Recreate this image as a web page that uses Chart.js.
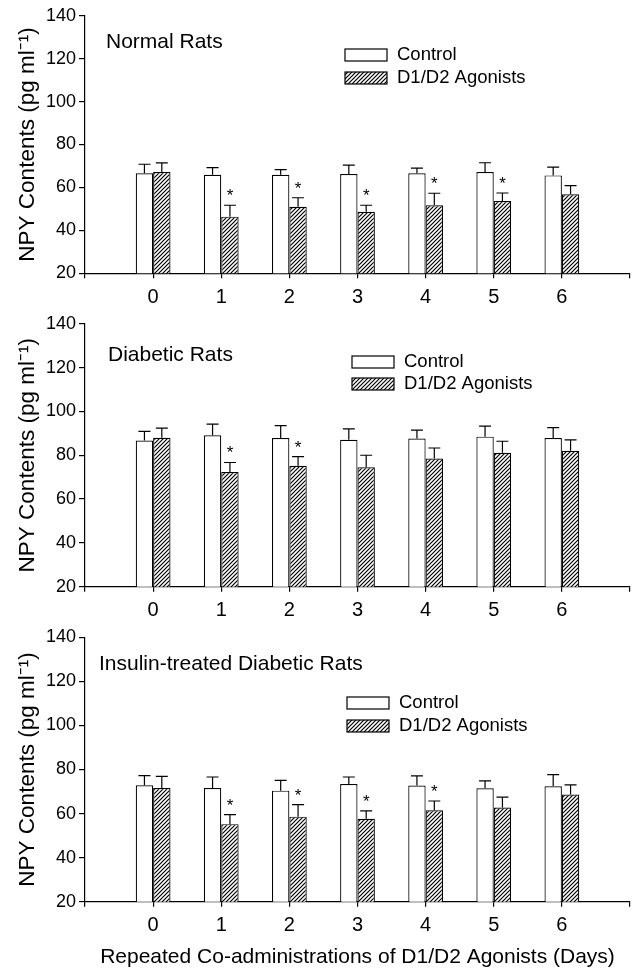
<!DOCTYPE html>
<html>
<head>
<meta charset="utf-8">
<script src="https://cdn.jsdelivr.net/npm/chart.js@4.4.1/dist/chart.umd.min.js"></script>
<style>
  html, body { margin: 0; padding: 0; background: #fff; }
  #wrap { position: relative; width: 637px; height: 970px; }
  canvas { position: absolute; left: 0; }
</style>
</head>
<body>
<div id="wrap">
  <canvas id="normal" width="637" height="310" style="top:0"></canvas>
  <canvas id="diabetic" width="637" height="310" style="top:310px"></canvas>
  <canvas id="insulin" width="637" height="350" style="top:620px"></canvas>
</div>
<script>
// categories and tick labels
const days = ['0', '1', '2', '3', '4', '5', '6'];
const yTicks = [20, 40, 60, 80, 100, 120, 140];

// Normal rats
const normalControl = [66.6, 65.9, 65.9, 66.2, 66.6, 67.2, 65.6];
const normalControlSem = [4.2, 3.3, 2.4, 4.2, 2.4, 4.3, 3.9];
const normalAgonist = [67.2, 46.4, 51.0, 48.7, 51.7, 53.7, 56.8];
const normalAgonistSem = [4.2, 5.3, 4.2, 3.0, 5.6, 3.7, 4.0];
const normalSig = [0, 1, 1, 1, 1, 1, 0];

// Diabetic rats
const diabeticControl = [86.7, 89.1, 87.9, 87.1, 87.6, 88.5, 87.9];
const diabeticControlSem = [4.2, 5.1, 5.6, 4.9, 3.9, 4.8, 4.7];
const diabeticAgonist = [88.0, 72.3, 75.2, 74.5, 78.5, 81.1, 82.0];
const diabeticAgonistSem = [4.4, 4.4, 4.2, 5.5, 4.8, 5.3, 5.0];
const diabeticSig = [0, 1, 1, 0, 0, 0, 0];

// Insulin-treated diabetic rats
const insulinControl = [72.8, 71.6, 70.4, 73.4, 72.7, 71.5, 72.4];
const insulinControlSem = [4.4, 5.0, 4.7, 3.2, 4.4, 3.3, 5.3];
const insulinAgonist = [71.6, 55.2, 58.6, 57.6, 61.5, 62.7, 68.6];
const insulinAgonistSem = [5.3, 4.3, 5.5, 3.6, 4.2, 4.8, 4.4];
const insulinSig = [0, 1, 1, 1, 1, 0, 0];

const FONT = '"Liberation Sans", Arial, Helvetica, sans-serif';

// empty slot each side so the axis runs one day past 0 and 6
const pad = arr => [null, ...arr, null];

function hatch() {
  const c = document.createElement('canvas');
  c.width = 4; c.height = 4;
  const g = c.getContext('2d');
  g.fillStyle = '#fff';
  g.fillRect(0, 0, 4, 4);
  g.strokeStyle = '#000';
  g.lineWidth = 1.2;
  g.beginPath();
  g.moveTo(-1, 5); g.lineTo(5, -1);
  g.moveTo(-1, 1); g.lineTo(1, -1);
  g.moveTo(3, 5); g.lineTo(5, 3);
  g.stroke();
  return g.createPattern(c, 'repeat');
}

// error bars, asterisks, panel label and legend
const annot = {
  id: 'annot',
  afterDatasetsDraw(chart, args, opts) {
    const ctx = chart.ctx;
    const ys = chart.scales.y;
    ctx.save();
    ctx.strokeStyle = '#000';
    ctx.fillStyle = '#000';
    ctx.lineWidth = 1.2;
    chart.data.datasets.forEach((ds, di) => {
      chart.getDatasetMeta(di).data.forEach((bar, i) => {
        const v = ds.data[i];
        if (v == null) return;
        const top = ys.getPixelForValue(v + ds.sem[i]);
        ctx.beginPath();
        ctx.moveTo(bar.x, bar.y);
        ctx.lineTo(bar.x, top);
        ctx.moveTo(bar.x - 6, top);
        ctx.lineTo(bar.x + 6, top);
        ctx.stroke();
        if (ds.sig && ds.sig[i]) {
          ctx.font = '17px ' + FONT;
          ctx.textAlign = 'center';
          ctx.textBaseline = 'alphabetic';
          ctx.fillText('*', bar.x, top - 4);
        }
      });
    });

    // panel label
    ctx.font = '21px ' + FONT;
    ctx.textAlign = 'left';
    ctx.textBaseline = 'middle';
    ctx.fillText(opts.label, opts.labelX, opts.labelY);

    // legend
    const lg = opts.legend;
    ctx.font = '18.5px ' + FONT;
    chart.data.datasets.forEach((ds, di) => {
      const by = lg.y[di];
      ctx.fillStyle = ds.backgroundColor;
      ctx.fillRect(lg.x, by, 42, 12);
      ctx.strokeStyle = '#000';
      ctx.lineWidth = 1.2;
      ctx.strokeRect(lg.x, by, 42, 12);
      ctx.fillStyle = '#000';
      ctx.fillText(ds.label, lg.x + 52, by + 6);
    });
    ctx.restore();
  }
};

function makePanel(id, control, controlSem, agonist, agonistSem, sig, cfg) {
  const el = document.getElementById(id);
  return new Chart(el, {
    type: 'bar',
    data: {
      labels: ['', ...days, ''],
      datasets: [{
        label: 'Control',
        data: pad(control),
        sem: pad(controlSem),
        backgroundColor: '#fff',
        borderColor: '#000',
        borderWidth: 1.2
      }, {
        label: 'D1/D2 Agonists',
        data: pad(agonist),
        sem: pad(agonistSem),
        sig: pad(sig),
        backgroundColor: hatch(),
        borderColor: '#000',
        borderWidth: 1.2
      }]
    },
    options: {
      responsive: false,
      animation: false,
      events: [],
      categoryPercentage: 0.51,
      barPercentage: 1.0,
      layout: { padding: { top: cfg.top, left: 0, right: 6, bottom: 0 } },
      scales: {
        x: {
          offset: false,
          afterFit: s => { s.height = cfg.xHeight; },
          grid: { offset: false, drawOnChartArea: false, tickLength: 5, color: '#000', lineWidth: 1.2 },
          border: { color: '#000', width: 1.2 },
          ticks: { color: '#000', font: { size: 20, family: FONT }, padding: 7, maxRotation: 0, autoSkip: false },
          title: {
            display: !!cfg.xTitle,
            text: cfg.xTitle || '',
            color: '#000',
            font: { size: 21, family: FONT },
            padding: { top: 0, bottom: 0 }
          }
        },
        y: {
          min: 20,
          max: 140,
          afterBuildTicks: s => { s.ticks = yTicks.map(v => ({ value: v })); },
          afterFit: s => { s.width = 85; },
          grid: { drawOnChartArea: false, tickLength: 6, color: '#000', lineWidth: 1.2 },
          border: { color: '#000', width: 1.2 },
          ticks: { color: '#000', font: { size: 18, family: FONT }, padding: 3 },
          title: {
            display: true,
            text: 'NPY Contents (pg ml⁻¹)',
            color: '#000',
            font: { size: 22.5, family: FONT },
            padding: { top: 14, bottom: 0 }
          }
        }
      },
      plugins: {
        legend: { display: false },
        tooltip: { enabled: false },
        annot: cfg.annot
      }
    },
    plugins: [annot]
  });
}

makePanel('normal', normalControl, normalControlSem, normalAgonist, normalAgonistSem, normalSig, {
  top: 15.7, xHeight: 36.7,
  annot: { label: 'Normal Rats', labelX: 106, labelY: 42, legend: { x: 345, y: [49, 72] } }
});

makePanel('diabetic', diabeticControl, diabeticControlSem, diabeticAgonist, diabeticAgonistSem, diabeticSig, {
  top: 12.7, xHeight: 33.3,
  annot: { label: 'Diabetic Rats', labelX: 108, labelY: 45, legend: { x: 352, y: [46, 68] } }
});

makePanel('insulin', insulinControl, insulinControlSem, insulinAgonist, insulinAgonistSem, insulinSig, {
  top: 17.3, xHeight: 68.3,
  xTitle: 'Repeated Co-administrations of D1/D2 Agonists (Days)',
  annot: { label: 'Insulin-treated Diabetic Rats', labelX: 99, labelY: 44, legend: { x: 347, y: [77, 100] } }
});
</script>
</body>
</html>
